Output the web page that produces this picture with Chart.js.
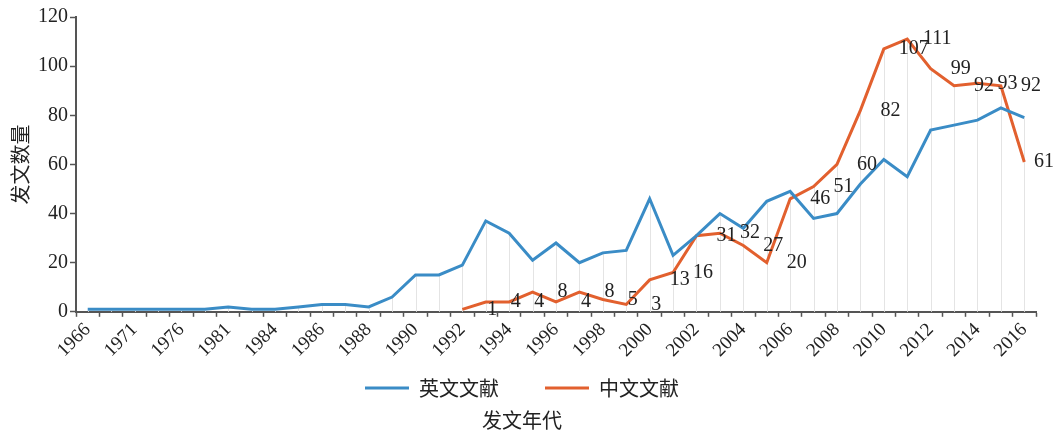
<!DOCTYPE html>
<html>
<head>
<meta charset="utf-8">
<script src="https://cdn.jsdelivr.net/npm/chart.js@4.4.0/dist/chart.umd.min.js"></script>
<style>
  html, body { margin: 0; padding: 0; background: #fff; }
  #wrap { width: 1056px; height: 432px; }
</style>
</head>
<body>
<div id="wrap"><canvas id="chart-wenxian"></canvas></div>
<script>
// 年份 (x 轴类别)
const years = ['1966','1969','1971','1974','1976','1979','1981','1983','1984','1985',
  '1986','1987','1988','1989','1990','1991','1992','1993','1994','1995',
  '1996','1997','1998','1999','2000','2001','2002','2003','2004','2005',
  '2006','2007','2008','2009','2010','2011','2012','2013','2014','2015','2016']

// 英文文献
const yingwen = [1,1,1,1,1,1,2,1,1,2,
  3,3,2,6,15,15,19,37,32,21,
  28,20,24,25,46,23,31,40,34,45,
  49,38,40,52,62,55,74,76,78,83,79]

// 中文文献 (1992 年开始)
const zhongwen = [null,null,null,null,null,null,null,null,null,null,
  null,null,null,null,null,null,1,4,4,8,
  4,8,5,3,13,16,31,32,27,20,
  46,51,60,82,107,111,99,92,93,92,61]

const yTicks = [0,20,40,60,80,100,120]

const fontFam = "'Liberation Serif', 'Noto Sans CJK SC', serif"
const cjkFam = "'Noto Sans CJK SC', 'Liberation Serif', serif"
const axisColor = '#555'

// 垂直线 (drop lines)
const dropLines = {
  id : 'dropLines',
  beforeDatasetsDraw : function(chart){
    const ctx = chart.ctx
    const x = chart.scales.x
    const y = chart.scales.y
    ctx.save()
    ctx.strokeStyle = '#e4e4e4'
    ctx.lineWidth = 1
    for (let i = 0; i < years.length; i++) {
      let top = yingwen[i]
      if (zhongwen[i] !== null && zhongwen[i] > top) top = zhongwen[i]
      const px = Math.round(x.getPixelForValue(i)) + 0.5
      ctx.beginPath()
      ctx.moveTo(px, y.getPixelForValue(top))
      ctx.lineTo(px, y.getPixelForValue(0))
      ctx.stroke()
    }
    ctx.restore()
  }
}

// 中文文献的数据标签
const dataLabels = {
  id : 'dataLabels',
  afterDatasetsDraw : function(chart){
    const ctx = chart.ctx
    const meta = chart.getDatasetMeta(1)
    ctx.save()
    ctx.font = '20px ' + fontFam
    ctx.fillStyle = '#222'
    ctx.textAlign = 'center'
    ctx.textBaseline = 'middle'
    meta.data.forEach(function(pt, i){
      if (zhongwen[i] === null) return
      const txt = String(zhongwen[i])
      const half = ctx.measureText(txt).width / 2
      const px = Math.min(pt.x + 30, chart.width - half - 2)
      ctx.fillText(txt, px, pt.y)
    })
    ctx.restore()
  }
}

new Chart(document.getElementById('chart-wenxian'),
  {
    type : 'line',
    data : {
      labels : years,
      datasets : [
        {
          label : '英文文献',
          data : yingwen,
          borderColor : '#3a8cc6',
          backgroundColor : '#3a8cc6',
          borderWidth : 3,
          pointRadius : 0,
          tension : 0
        },
        {
          label : '中文文献',
          data : zhongwen,
          borderColor : '#e2602e',
          backgroundColor : '#e2602e',
          borderWidth : 3,
          pointRadius : 0,
          tension : 0
        }
      ]
    },
    options : {
      responsive : true,
      maintainAspectRatio : false,
      animation : false,
      layout : {
        padding : { left : 8, right : 20, top : 17, bottom : 0 }
      },
      scales : {
        x : {
          offset : true,
          grid : {
            offset : true,
            drawOnChartArea : false,
            color : axisColor,
            tickLength : 5,
            tickWidth : 1.5
          },
          border : { color : axisColor, width : 2 },
          ticks : {
            autoSkip : false,
            maxRotation : 45,
            minRotation : 45,
            padding : 2,
            color : '#222',
            font : { family : fontFam, size : 19 },
            callback : function(val, idx){
              return idx % 2 === 0 ? years[idx] : ''
            }
          },
          // 空标题, 只用来留出图例上方的空白
          title : {
            display : true,
            text : '',
            font : { size : 1 },
            padding : { top : 7, bottom : 0 }
          }
        },
        y : {
          min : 0,
          max : 120,
          afterBuildTicks : function(scale){
            scale.ticks = yTicks.map(function(v){ return { value : v } })
          },
          grid : {
            drawOnChartArea : false,
            color : axisColor,
            tickLength : 6,
            tickWidth : 1.5
          },
          border : { color : axisColor, width : 2 },
          ticks : {
            padding : 2,
            color : '#222',
            font : { family : fontFam, size : 20 }
          },
          title : {
            display : true,
            text : '发文数量',
            color : '#222',
            font : { family : cjkFam, size : 20 },
            padding : { top : 0, bottom : 4 }
          }
        }
      },
      plugins : {
        legend : {
          position : 'bottom',
          labels : {
            usePointStyle : true,
            pointStyle : 'line',
            pointStyleWidth : 44,
            color : '#222',
            padding : 6,
            font : { family : cjkFam, size : 20 },
            generateLabels : function(chart){
              const items = Chart.defaults.plugins.legend.labels.generateLabels(chart)
              items[0].text = items[0].text + '\u2003\u2003'
              return items
            }
          }
        },
        title : {
          display : true,
          position : 'bottom',
          text : '发文年代',
          color : '#222',
          font : { family : cjkFam, size : 20, weight : 'normal' },
          padding : { top : 0, bottom : 0 }
        },
        tooltip : { enabled : false }
      }
    },
    plugins : [dropLines, dataLabels]
  }
)
</script>
</body>
</html>
